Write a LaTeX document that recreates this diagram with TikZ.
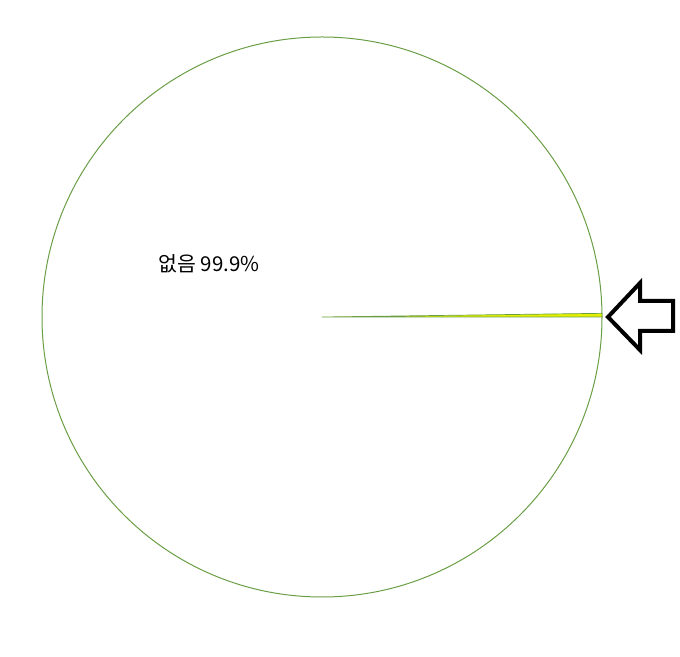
\documentclass[tikz,border=0pt]{standalone}
\usepackage{fontspec}
\usepackage{xcolor}
\newfontfamily\krfont{Noto Sans CJK KR}
\definecolor{piegreen}{HTML}{6A9E45}
\definecolor{pieyellow}{HTML}{E4F000}

\begin{document}
\begin{tikzpicture}[x=1pt, y=1pt]
\useasboundingbox (0, 0) rectangle (680, 656);
\draw [piegreen, line width=1pt] (322, 339) circle (280);
\draw [piegreen, fill=pieyellow, line width=0.7pt] (322, 339) -- (602, 339) arc (0:0.75:280) -- cycle;
\draw [line width=4pt, miter limit=10] (608, 339) -- (640, 373) -- (640, 355) -- (673, 355) -- (673, 325) -- (640, 325) -- (640, 306) -- cycle;
\node (lbl) at (209, 392) {\krfont\fontsize{20.5}{24}\selectfont 없음 99.9\%};
\end{tikzpicture}
\end{document}
